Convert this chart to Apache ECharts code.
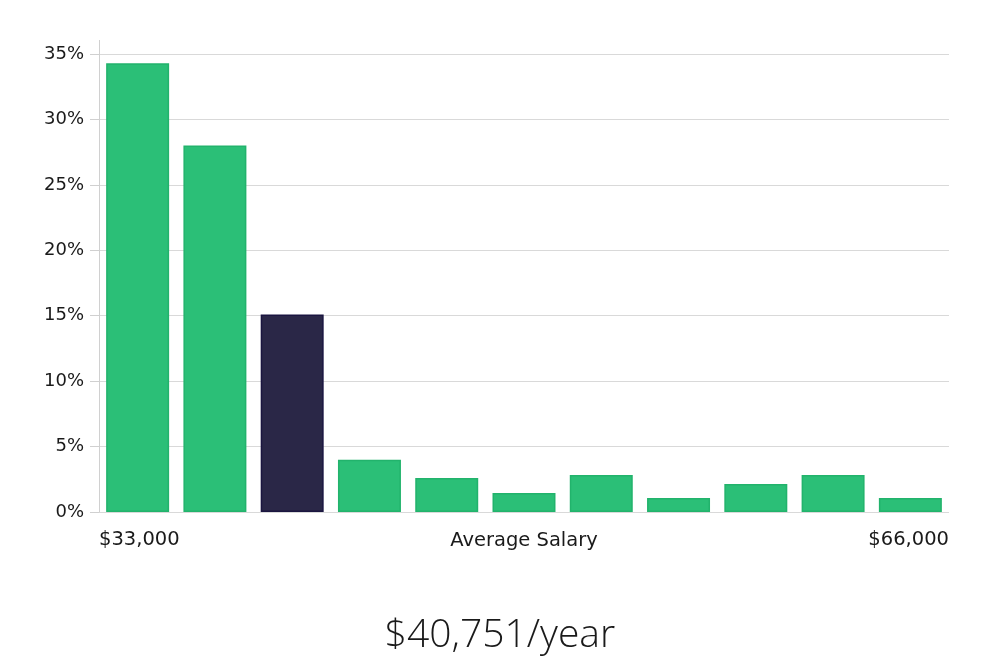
<!DOCTYPE html>
<html><head><meta charset="utf-8">
<script src="https://cdn.jsdelivr.net/npm/echarts@6/dist/echarts.min.js"></script>
<style>html,body{margin:0;padding:0;background:#fff}#c{width:1000px;height:660px}</style>
</head><body><div id="c"></div>
<script>
const categories = ['b1','b2','b3','b4','b5','b6','b7','b8','b9','b10','b11'];
const shares = [34.3, 28.0, 15.1, 4.0, 2.6, 1.45, 2.83, 1.07, 2.14, 2.83, 1.07];
const highlightIndex = 2;
const salaryRange = [33000, 66000];
const yTicks = [0, 5, 10, 15, 20, 25, 30, 35];
const titleText = '$40,751/year';
const xName = 'Average Salary';

const green = '#2bbf77', greenBorder = '#22b36c';
const dark = '#2a2747', darkBorder = '#1a1540';

const chart = echarts.init(document.getElementById('c'));
chart.setOption({
  animation: false,
  title: {text: titleText, left: 'center', top: 611,
    textStyle: {fontFamily: 'Open Sans', fontWeight: 300, fontSize: 39, color: '#1a1a1a'}},
  grid: {left: 99, right: 51, top: 54, bottom: 148},
  xAxis: [{
    type: 'category', data: categories,
    axisLine: {show: false}, axisTick: {show: false}, axisLabel: {show: false},
    name: xName, nameLocation: 'middle', nameGap: 19,
    nameTextStyle: {fontFamily: 'DejaVu Sans', fontSize: 19.5, color: '#1a1a1a'}
  }, {
    type: 'value', position: 'bottom', min: salaryRange[0], max: salaryRange[1],
    interval: salaryRange[1] - salaryRange[0],
    axisLine: {show: false}, axisTick: {show: false}, splitLine: {show: false},
    axisLabel: {margin: 18, fontFamily: 'DejaVu Sans', fontSize: 19.5, color: '#1a1a1a',
      alignMinLabel: 'left', alignMaxLabel: 'right',
      formatter: v => '$' + v.toLocaleString('en-US')}
  }],
  yAxis: {
    type: 'value', min: yTicks[0], max: yTicks[yTicks.length - 1], interval: 5,
    axisLine: {show: true, lineStyle: {color: '#d0d0d0'}},
    axisTick: {show: true, length: 9, lineStyle: {color: '#d0d0d0'}},
    splitLine: {lineStyle: {color: '#d9d9d9'}},
    axisLabel: {margin: 15, fontFamily: 'DejaVu Sans', fontSize: 18, color: '#1a1a1a',
      formatter: v => v + '%'}
  },
  series: [{
    type: 'bar', xAxisIndex: 0, barCategoryGap: '18.5%',
    data: shares.map((v, i) => ({value: v, itemStyle: i === highlightIndex
      ? {color: dark, borderColor: darkBorder, borderWidth: 1.5}
      : {color: green, borderColor: greenBorder, borderWidth: 1.5}}))
  }],
  graphic: [{type: 'line', shape: {x1: 99.5, y1: 40, x2: 99.5, y2: 54},
    style: {stroke: '#d0d0d0', lineWidth: 1}}]
});
</script></body></html>
